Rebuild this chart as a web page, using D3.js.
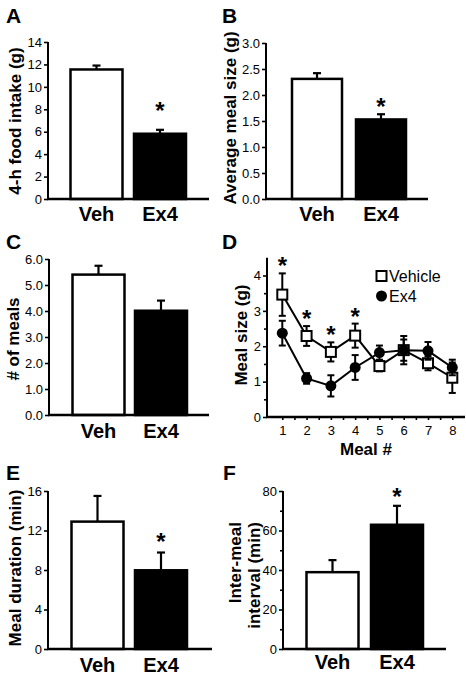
<!DOCTYPE html>
<html><head><meta charset="utf-8">
<script src="https://cdn.jsdelivr.net/npm/d3@7"></script>
<style>body{margin:0;background:#fff} svg text{font-family:"Liberation Sans",Arial,Helvetica,sans-serif;fill:#000}</style>
</head><body><svg id="c" width="466" height="678"></svg>
<script>
// ---------- data ----------
const groups = ["Veh", "Ex4"];
const intakeMean = [11.55, 5.82], intakeSem = [0.35, 0.35];
const mealSizeMean = [2.31, 1.53], mealSizeSem = [0.11, 0.10];
const mealCountMean = [5.40, 4.01], mealCountSem = [0.34, 0.39];
const durationMean = [12.9, 7.97], durationSem = [2.6, 1.8];
const intervalMean = [38.9, 62.9], intervalSem = [6.1, 9.6];
const barSig = [false, true];
const countSig = [false, false];

const mealNumbers = [1, 2, 3, 4, 5, 6, 7, 8];
const vehicleSize = [3.46, 2.29, 1.84, 2.30, 1.44, 1.89, 1.52, 1.11];
const vehicleSem  = [0.60, 0.28, 0.27, 0.34, 0.15, 0.40, 0.20, 0.43];
const ex4Size     = [2.37, 1.09, 0.88, 1.40, 1.82, 1.89, 1.87, 1.40];
const ex4Sem      = [0.35, 0.15, 0.30, 0.35, 0.20, 0.30, 0.25, 0.22];
const sigMeals = [1, 2, 3, 4];
const seriesNames = ["Vehicle", "Ex4"];

const intakeTicks = [0, 2, 4, 6, 8, 10, 12, 14];
const mealSizeTicks = [0, 0.5, 1, 1.5, 2, 2.5, 3];
const mealCountTicks = [0, 1, 2, 3, 4, 5, 6];
const durationTicks = [0, 4, 8, 12, 16];
const intervalTicks = [0, 20, 40, 60, 80];
const intervalMinorTicks = [10, 30, 50, 70];
const sizeTicks = [0, 1, 2, 3, 4];
const sizeMinorTicks = [0.5, 1.5, 2.5, 3.5];
const mealMinorTicks = [1.5, 2.5, 3.5, 4.5, 5.5, 6.5, 7.5];

// ---------- drawing ----------
const svg = d3.select("#c");
const FONT_TICK = 13;

function panelLetter(t, x, y) {
  svg.append("text").attr("x", x).attr("y", y).text(t)
    .attr("font-size", 21).attr("font-weight", "bold");
}

function yLabel(lines, x, y, anchor, lineGap) {
  lines.forEach((s, i) => {
    svg.append("text")
      .attr("transform", `translate(${x + i * lineGap},${y}) rotate(-90)`)
      .attr("text-anchor", anchor).attr("dominant-baseline", "central")
      .attr("font-size", 17).attr("font-weight", "bold").text(s);
  });
}

function styleAxis(g) {
  g.selectAll(".tick line").attr("stroke", "#000").attr("stroke-width", 1.6);
  g.selectAll(".tick text").attr("font-size", FONT_TICK)
    .attr("font-family", '"Liberation Sans",Arial,sans-serif').attr("fill", "#000");
  g.select(".domain").remove();
}

function barPanel(c) {
  const y = d3.scaleLinear().domain([0, c.max]).range([c.y0, c.y1]);
  const x = d3.scalePoint().domain(groups).range(c.centers);
  const g = svg.append("g");
  // y axis
  const ax = g.append("g").attr("transform", `translate(${c.ax},0)`)
    .call(d3.axisLeft(y).tickValues(c.ticks).tickSize(4).tickPadding(2).tickFormat(c.fmt));
  styleAxis(ax);
  if (c.minor) {
    const mx = g.append("g").attr("transform", `translate(${c.ax},0)`)
      .call(d3.axisLeft(y).tickValues(c.minor).tickSize(3).tickFormat(""));
    styleAxis(mx);
  }
  g.append("line").attr("x1", c.ax).attr("x2", c.ax).attr("y1", y(0)).attr("y2", y(c.max))
    .attr("stroke", "#000").attr("stroke-width", 2);
  // bars
  const data = groups.map((k, i) => ({k, m: c.mean[i], s: c.sem[i], sig: c.sig[i], i}));
  g.selectAll("rect.bar").data(data).join("rect")
    .attr("x", d => x(d.k) - c.bw / 2).attr("width", c.bw)
    .attr("y", d => y(d.m)).attr("height", d => y(0) - y(d.m))
    .attr("fill", d => d.i === 0 ? "#fff" : "#000")
    .attr("stroke", "#000").attr("stroke-width", 2.5);
  // error bars (upward)
  g.selectAll("line.err").data(data).join("line")
    .attr("x1", d => x(d.k)).attr("x2", d => x(d.k))
    .attr("y1", d => y(d.m)).attr("y2", d => y(d.m + d.s))
    .attr("stroke", "#000").attr("stroke-width", 2.2);
  g.selectAll("line.cap").data(data).join("line")
    .attr("x1", d => x(d.k) - 4).attr("x2", d => x(d.k) + 4)
    .attr("y1", d => y(d.m + d.s)).attr("y2", d => y(d.m + d.s))
    .attr("stroke", "#000").attr("stroke-width", 2.2);
  // significance
  g.selectAll("text.star").data(data.filter(d => d.sig)).join("text")
    .attr("x", d => x(d.k)).attr("y", d => y(d.m + d.s) - c.starGap + 13)
    .attr("text-anchor", "middle").attr("font-size", 24).attr("font-weight", "bold").text("*");
  // x axis
  g.append("line").attr("x1", c.ax - 1).attr("x2", c.xEnd).attr("y1", y(0)).attr("y2", y(0))
    .attr("stroke", "#000").attr("stroke-width", 2.5);
  g.selectAll("text.cat").data(data).join("text")
    .attr("x", d => x(d.k)).attr("y", y(0) + c.labGap)
    .attr("text-anchor", "middle").attr("font-size", 20).attr("font-weight", "bold").text(d => d.k);
}

const f0 = d3.format("d"), f1 = d3.format(".1f");

// A
panelLetter("A", 6, 23);
yLabel(["4-h food intake (g)"], 15, 121, "middle", 0);
barPanel({ax: 48, y0: 199, y1: 42, max: 14, ticks: intakeTicks, fmt: f0, centers: [96.5, 160], bw: 52,
  mean: intakeMean, sem: intakeSem, sig: barSig, starGap: 24, xEnd: 209, labGap: 22});
// B
panelLetter("B", 222, 23);
yLabel(["Average meal size (g)"], 230, 118, "middle", 0);
barPanel({ax: 266, y0: 199, y1: 43, max: 3, ticks: mealSizeTicks, fmt: f1, centers: [317, 381], bw: 50,
  mean: mealSizeMean, sem: mealSizeSem, sig: barSig, starGap: 12, xEnd: 428, labGap: 22});
// C
panelLetter("C", 6, 249);
yLabel(["# of meals"], 13, 339, "middle", 0);
barPanel({ax: 49, y0: 415, y1: 259, max: 6, ticks: mealCountTicks, fmt: f1, centers: [98.5, 161], bw: 52,
  mean: mealCountMean, sem: mealCountSem, sig: countSig, starGap: 12, xEnd: 209, labGap: 23});
// E
panelLetter("E", 6, 480);
yLabel(["Meal duration (min)"], 15, 568, "middle", 0);
barPanel({ax: 48, y0: 649, y1: 491, max: 16, ticks: durationTicks, fmt: f0, centers: [97.5, 161], bw: 52,
  mean: durationMean, sem: durationSem, sig: barSig, starGap: 16, xEnd: 212, labGap: 23});
// F
panelLetter("F", 223, 480);
yLabel(["Inter-meal", "interval (min)"], 235, 522, "end", 19);
barPanel({ax: 283, y0: 649, y1: 491, max: 80, ticks: intervalTicks, minor: intervalMinorTicks, fmt: f0,
  centers: [332.5, 397], bw: 52, mean: intervalMean, sem: intervalSem, sig: barSig, starGap: 14, xEnd: 446, labGap: 20});

// D
panelLetter("D", 222, 249);
yLabel(["Meal size (g)"], 241, 335, "middle", 0);
(function () {
  const axX = 267, xEnd = 465;
  const x = d3.scaleLinear().domain([1, 8]).range([282.3, 452.3]);
  const y = d3.scaleLinear().domain([0, 4]).range([417, 275.5]);
  const g = svg.append("g");
  const ay = g.append("g").attr("transform", `translate(${axX},0)`)
    .call(d3.axisLeft(y).tickValues(sizeTicks).tickSize(4).tickPadding(2).tickFormat(f0));
  styleAxis(ay);
  const aym = g.append("g").attr("transform", `translate(${axX},0)`)
    .call(d3.axisLeft(y).tickValues(sizeMinorTicks).tickSize(3).tickFormat(""));
  styleAxis(aym);
  g.append("line").attr("x1", axX).attr("x2", axX).attr("y1", y(0)).attr("y2", y(4.5))
    .attr("stroke", "#000").attr("stroke-width", 2);
  const axb = g.append("g").attr("transform", `translate(0,${y(0)})`)
    .call(d3.axisBottom(x).tickValues(mealNumbers).tickSize(3).tickPadding(6).tickFormat(f0));
  styleAxis(axb);
  const axbm = g.append("g").attr("transform", `translate(0,${y(0)})`)
    .call(d3.axisBottom(x).tickValues(mealMinorTicks).tickSize(3).tickFormat(""));
  styleAxis(axbm);
  g.append("line").attr("x1", axX - 1).attr("x2", xEnd).attr("y1", y(0)).attr("y2", y(0))
    .attr("stroke", "#000").attr("stroke-width", 2.5);
  svg.append("text").attr("x", 366).attr("y", 455).attr("text-anchor", "middle")
    .attr("font-size", 17).attr("font-weight", "bold").text("Meal #");

  const series = [
    {name: seriesNames[0], vals: vehicleSize, sems: vehicleSem, shape: "square"},
    {name: seriesNames[1], vals: ex4Size, sems: ex4Sem, shape: "circle"}
  ];
  const line = d3.line().x(d => x(d.m)).y(d => y(d.v));
  series.forEach(s => {
    const pts = mealNumbers.map((m, i) => ({m, v: s.vals[i], e: s.sems[i]}));
    const sg = g.append("g");
    sg.append("path").attr("d", line(pts)).attr("fill", "none").attr("stroke", "#000").attr("stroke-width", 2);
    sg.selectAll("line.e").data(pts).join("line")
      .attr("x1", d => x(d.m)).attr("x2", d => x(d.m))
      .attr("y1", d => y(d.v - d.e)).attr("y2", d => y(d.v + d.e))
      .attr("stroke", "#000").attr("stroke-width", 2);
    [1, -1].forEach(sgn => {
      sg.selectAll(null).data(pts).join("line")
        .attr("x1", d => x(d.m) - 3.5).attr("x2", d => x(d.m) + 3.5)
        .attr("y1", d => y(d.v + sgn * d.e)).attr("y2", d => y(d.v + sgn * d.e))
        .attr("stroke", "#000").attr("stroke-width", 2);
    });
    if (s.shape === "square") {
      sg.selectAll("rect").data(pts).join("rect")
        .attr("x", d => x(d.m) - 5).attr("y", d => y(d.v) - 5).attr("width", 10).attr("height", 10)
        .attr("fill", "#fff").attr("stroke", "#000").attr("stroke-width", 2);
    } else {
      sg.selectAll("circle").data(pts).join("circle")
        .attr("cx", d => x(d.m)).attr("cy", d => y(d.v)).attr("r", 5.5).attr("fill", "#000");
    }
  });
  // stars above vehicle
  g.selectAll("text.star").data(sigMeals).join("text")
    .attr("x", m => x(m)).attr("y", m => y(vehicleSize[m - 1] + vehicleSem[m - 1]) - 12 + 13)
    .attr("text-anchor", "middle").attr("font-size", 24).attr("font-weight", "bold").text("*");
  // legend
  const lg = svg.append("g");
  lg.append("rect").attr("x", 376.5).attr("y", 271).attr("width", 10).attr("height", 10)
    .attr("fill", "#fff").attr("stroke", "#000").attr("stroke-width", 2);
  lg.append("circle").attr("cx", 381.5).attr("cy", 296).attr("r", 5.5).attr("fill", "#000");
  lg.selectAll("text").data(seriesNames).join("text")
    .attr("x", 389).attr("y", (d, i) => 276 + i * 20).attr("dominant-baseline", "central")
    .attr("font-size", 16).text(d => d);
})();
</script></body></html>
